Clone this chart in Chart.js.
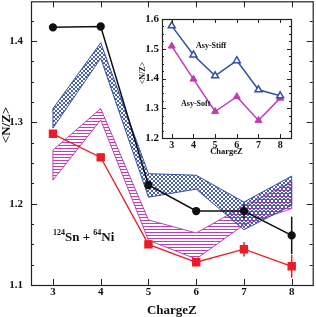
<!DOCTYPE html>
<html>
<head>
<meta charset="utf-8">
<script src="https://cdn.jsdelivr.net/npm/chart.js@4"></script>
<style>
  html, body { margin: 0; padding: 0; background: #fff; overflow: hidden; }
  #wrap { position: relative; width: 316px; height: 317px; overflow: hidden; }
  #wrap canvas { position: absolute; left: 0; top: 0; }
  #mainChart { top: -5px !important; }
</style>
</head>
<body>
<div id="wrap">
  <canvas id="mainChart" width="319" height="322"></canvas>
  <canvas id="insetChart" width="316" height="317"></canvas>
</div>
<script>
// main panel: measured <N/Z> vs charge
const charges = [3, 4, 5, 6, 7, 8]
const expBlack = [1.417, 1.418, 1.223, 1.191, 1.191, 1.161]
const errBlack = [0.002, 0.002, 0.004, 0.004, 0.009, 0.023]
const expRed = [1.286, 1.257, 1.150, 1.128, 1.144, 1.123]
const errRed = [0.003, 0.004, 0.003, 0.005, 0.009, 0.014]
// calculation bands
const stiffLow = [1.293, 1.379, 1.208, 1.218, 1.168, 1.198]
const stiffHigh = [1.317, 1.398, 1.237, 1.235, 1.202, 1.234]
const softLow = [1.229, 1.303, 1.155, 1.132, 1.174, 1.194]
const softHigh = [1.266, 1.317, 1.180, 1.164, 1.197, 1.227]
const mainYTicks = [1.1, 1.2, 1.3, 1.4]

// inset
const insetStiff = [1.577, 1.479, 1.409, 1.460, 1.362, 1.342]
const insetSoft = [1.509, 1.398, 1.289, 1.339, 1.259, 1.334]
const insetYTicks = [1.2, 1.3, 1.4, 1.5, 1.6]

const BLUE = '#3350a6'
const MAG = '#c13db2'
const RED = '#ec1c24'
const FONT = '"Liberation Serif", "Times New Roman", serif'
// main canvas sits 5px above the page so the point overflow padding lands off-screen
const SHIFT = 5

function pts(ys) {
  return charges.map((c, i) => ({ x: c, y: ys[i] }))
}
function caps(lo, hi) {
  const n = charges.length - 1
  return [
    { x: charges[0], y: lo[0] }, { x: charges[0], y: hi[0] }, { x: charges[0], y: null },
    { x: charges[n], y: lo[n] }, { x: charges[n], y: hi[n] }
  ]
}

function crossHatch(color) {
  const c = document.createElement('canvas')
  c.width = 4; c.height = 4
  const g = c.getContext('2d')
  g.strokeStyle = color
  g.lineWidth = 0.9
  g.beginPath()
  g.moveTo(0, 0); g.lineTo(4, 4)
  g.moveTo(0, 4); g.lineTo(4, 0)
  g.stroke()
  return g.createPattern(c, 'repeat')
}
function hLines(color) {
  const c = document.createElement('canvas')
  c.width = 4; c.height = 3
  const g = c.getContext('2d')
  g.fillStyle = color
  g.fillRect(0, 0, 4, 1)
  return g.createPattern(c, 'repeat')
}

// frame with inward ticks on all four sides
const frameTicks = {
  id: 'frameTicks',
  afterDraw(chart, args, o) {
    const { ctx, chartArea: a, scales: { x, y } } = chart
    ctx.save()
    ctx.strokeStyle = o.color
    ctx.lineWidth = 1.2
    ctx.strokeRect(a.left + 0.5, a.top + 0.5, a.right - a.left, a.bottom - a.top)
    ctx.lineWidth = 1
    ctx.beginPath()
    charges.forEach(v => {
      const px = Math.round(x.getPixelForValue(v)) + 0.5
      ctx.moveTo(px, a.bottom); ctx.lineTo(px, a.bottom - o.major)
      ctx.moveTo(px, a.top); ctx.lineTo(px, a.top + o.major)
    })
    const n = Math.floor((y.max - o.yFrom) / o.yStep + 1e-6)
    for (let i = 0; i <= n; i++) {
      const len = i % o.yEvery === 0 ? o.major : o.minor
      const py = Math.round(y.getPixelForValue(o.yFrom + i * o.yStep)) + 0.5
      ctx.moveTo(a.left, py); ctx.lineTo(a.left + len, py)
      ctx.moveTo(a.right, py); ctx.lineTo(a.right - len, py)
    }
    ctx.stroke()
    ctx.restore()
  }
}

const errorBars = {
  id: 'errorBars',
  afterDatasetsDraw(chart) {
    const { ctx, scales: { x, y } } = chart
    chart.data.datasets.forEach(ds => {
      if (!ds.errors) return
      ctx.save()
      ctx.strokeStyle = ds.borderColor
      ctx.lineWidth = 1.5
      ds.data.forEach((p, i) => {
        const px = x.getPixelForValue(p.x)
        ctx.beginPath()
        ctx.moveTo(px, y.getPixelForValue(p.y - ds.errors[i]))
        ctx.lineTo(px, y.getPixelForValue(p.y + ds.errors[i]))
        ctx.stroke()
      })
      ctx.restore()
    })
  }
}

const mainText = {
  id: 'mainText',
  afterDraw(chart) {
    const { ctx, chartArea: a } = chart
    ctx.save()
    ctx.translate(0, SHIFT)
    ctx.fillStyle = '#111'
    ctx.textBaseline = 'middle'
    ctx.textAlign = 'center'
    ctx.font = 'bold 13px ' + FONT
    ctx.fillText('ChargeZ', (a.left + a.right) / 2, 311)
    ctx.save()
    ctx.translate(7, 125)
    ctx.rotate(-Math.PI / 2)
    ctx.fillText('<N/Z>', 0, 0)
    ctx.restore()
    // reaction label with superscripts
    ctx.textAlign = 'left'
    ctx.textBaseline = 'alphabetic'
    let x = 53
    const parts = [['124', 8, 234.5], ['Sn + ', 13, 241], ['64', 8, 234.5], ['Ni', 13, 241]]
    parts.forEach(([t, size, base]) => {
      ctx.font = 'bold ' + size + 'px ' + FONT
      ctx.fillText(t, x, base)
      x += ctx.measureText(t).width
    })
    ctx.restore()
  }
}

const insetText = {
  id: 'insetText',
  beforeDraw(chart) {
    const { ctx, chartArea: a } = chart
    ctx.save()
    ctx.fillStyle = '#fff'
    ctx.fillRect(a.left, a.top, a.right - a.left, a.bottom - a.top)
    ctx.restore()
  },
  afterDraw(chart) {
    const { ctx, chartArea: a } = chart
    ctx.save()
    ctx.fillStyle = '#111'
    ctx.textBaseline = 'middle'
    ctx.textAlign = 'center'
    ctx.font = 'bold 8.5px ' + FONT
    ctx.fillText('ChargeZ', (a.left + a.right) / 2, 152)
    ctx.save()
    ctx.translate(143, 73)
    ctx.rotate(-Math.PI / 2)
    ctx.font = 'bold 8px ' + FONT
    ctx.fillText('<N/Z>', 0, 0)
    ctx.restore()
    ctx.textAlign = 'left'
    ctx.font = 'bold 8px ' + FONT
    ctx.fillText('Asy-Stiff', 196, 46)
    ctx.fillText('Asy-Soft', 181, 104)
    ctx.restore()
  }
}

function axis(min, max, ticks, size, pad, fix) {
  return {
    type: 'linear', min, max,
    grid: { display: false, drawTicks: false },
    border: { display: false },
    afterBuildTicks: s => { s.ticks = ticks.map(v => ({ value: v })) },
    afterFit: s => {
      fix(s)
      s.paddingTop = 0; s.paddingBottom = 0; s.paddingLeft = 0; s.paddingRight = 0
    },
    ticks: {
      color: '#111', padding: pad,
      font: { family: FONT, size, weight: 'bold' },
      callback: v => Number.isInteger(v) ? String(v) : v.toFixed(1)
    }
  }
}

const line = (data, color, extra) => Object.assign({
  data, borderColor: color, backgroundColor: color, borderWidth: 1,
  pointRadius: 0, tension: 0, fill: false
}, extra)

new Chart(document.getElementById('mainChart'), {
  type: 'line',
  data: {
    datasets: [
      line(pts(expBlack), '#111', { borderWidth: 1.5, pointRadius: 3.4, pointStyle: 'circle', errors: errBlack }),
      line(pts(expRed), RED, { borderWidth: 1.3, pointRadius: 5, pointStyle: 'rect', errors: errRed }),
      line(pts(stiffHigh), BLUE, { fill: '+1', backgroundColor: crossHatch(BLUE) }),
      line(pts(stiffLow), BLUE),
      line(pts(softHigh), MAG, { fill: '+1', backgroundColor: hLines(MAG) }),
      line(pts(softLow), MAG),
      line(caps(stiffLow, stiffHigh), BLUE, { spanGaps: false }),
      line(caps(softLow, softHigh), MAG, { spanGaps: false })
    ]
  },
  options: {
    responsive: false, animation: false, devicePixelRatio: 1,
    layout: { padding: 0 },
    plugins: {
      legend: { display: false }, tooltip: { enabled: false },
      frameTicks: { color: '#222', major: 6, minor: 3, yFrom: 1.1, yStep: 0.025, yEvery: 4 }
    },
    scales: {
      x: axis(2.54, 8.44, charges, 11, 1, s => { s.height = 32 }),
      y: axis(1.1, 1.449, mainYTicks, 11, 8, s => { s.width = 31 })
    }
  },
  plugins: [frameTicks, errorBars, mainText]
})

new Chart(document.getElementById('insetChart'), {
  type: 'line',
  data: {
    datasets: [
      line(pts(insetStiff), BLUE, { borderWidth: 1.5, pointRadius: 4, pointStyle: 'triangle', pointBorderWidth: 1.5, pointBackgroundColor: '#fff' }),
      line(pts(insetSoft), MAG, { borderWidth: 1.5, pointRadius: 4, pointStyle: 'triangle', pointBorderWidth: 1 })
    ]
  },
  options: {
    responsive: false, animation: false, devicePixelRatio: 1,
    layout: { padding: { top: 19, right: 25, left: 0, bottom: 0 } },
    plugins: {
      legend: { display: false }, tooltip: { enabled: false },
      frameTicks: { color: '#222', major: 4, minor: 2, yFrom: 1.2, yStep: 0.025, yEvery: 4 }
    },
    scales: {
      x: axis(2.55, 8.5, charges, 10, 1, s => { s.height = 179 }),
      y: axis(1.2, 1.6, insetYTicks, 11, 3, s => { s.width = 162 })
    }
  },
  plugins: [insetText, frameTicks]
})
</script>
</body>
</html>
